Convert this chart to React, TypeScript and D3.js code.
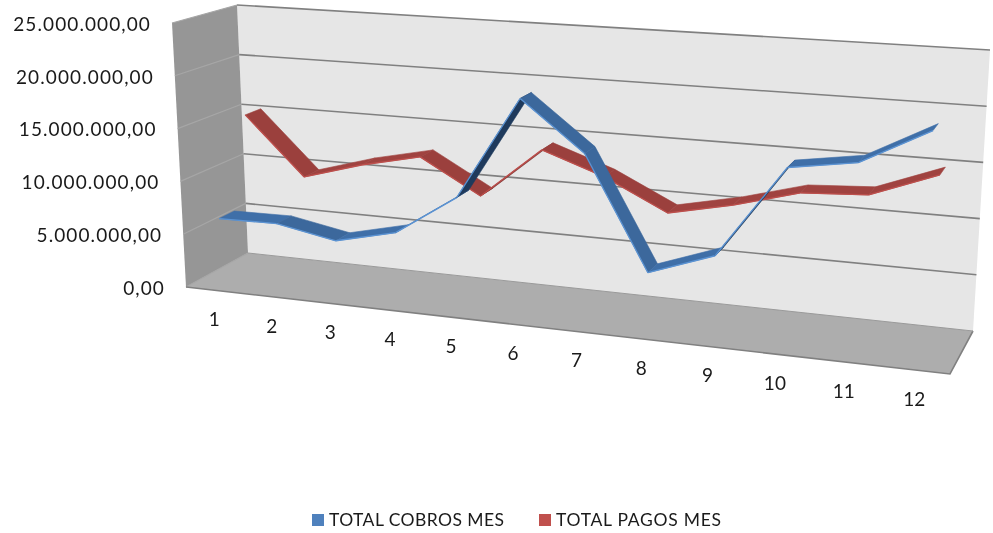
import React, { useRef, useEffect } from 'react';
import * as d3 from 'd3';

const months = ['1', '2', '3', '4', '5', '6', '7', '8', '9', '10', '11', '12'];
const cobros = [6380000, 6450000, 5400000, 6710000, 10460000, 19920000, 15430000, 5390000, 7460000, 15660000, 16570000, 19760000];
const pagos = [15080000, 9510000, 11160000, 12420000, 9230000, 14040000, 12030000, 9240000, 10490000, 12100000, 12440000, 14700000];
const legendNames = ['TOTAL COBROS MES', 'TOTAL PAGOS MES'];

const width = 993;
const height = 533;

// box corners as they land on screen, value 0 and value max
const corners = {
  frontLeft: [[186, 287], [172, 23]],
  backLeft: [[248, 253], [237, 5]],
  frontRight: [[950, 374], [972, 74]],
  backRight: [[973, 331], [990, 50]]
};
const perspective = 1.13;

const lerp = (a: number, b: number, t: number) => a + (b - a) * t;

export default function App() {
  const svgRef = useRef<SVGSVGElement>(null);

  useEffect(() => {
    if (!svgRef.current) return;
    const svg = d3.select(svgRef.current);
    svg.selectAll('*').remove();

    const yScale = d3.scaleLinear().domain([0, 25000000]).range([0, 1]);
    const xScale = d3.scalePoint<string>().domain(months).range([0, 1]).padding(0.5);

    // u along categories, z from front to back, f = fraction of the height
    const project = (u: number, z: number, f: number): [number, number] => {
      const t = u / (u + perspective * (1 - u));
      const pt = (k: number) => {
        const left = lerp(lerp(corners.frontLeft[0][k], corners.backLeft[0][k], z), lerp(corners.frontLeft[1][k], corners.backLeft[1][k], z), f);
        const right = lerp(lerp(corners.frontRight[0][k], corners.backRight[0][k], z), lerp(corners.frontRight[1][k], corners.backRight[1][k], z), f);
        return lerp(left, right, t);
      };
      return [pt(0), pt(1)];
    };
    const poly = (pts: [number, number][]) => pts.map(p => p.join(',')).join(' ');

    // walls
    svg.append('polygon')
      .attr('points', poly([project(0, 1, 0), project(0, 1, 1), project(1, 1, 1), project(1, 1, 0)]))
      .attr('fill', '#e6e6e6');
    svg.append('polygon')
      .attr('points', poly([project(0, 0, 0), project(0, 0, 1), project(0, 1, 1), project(0, 1, 0)]))
      .attr('fill', '#969696');
    svg.append('polygon')
      .attr('points', poly([project(0, 0, 0), project(0, 1, 0), project(1, 1, 0), project(1, 0, 0)]))
      .attr('fill', '#adadad');

    const ticks = yScale.ticks(5);
    ticks.forEach(v => {
      const f = yScale(v);
      const a = project(0, 0, f), b = project(0, 1, f), c = project(1, 1, f);
      svg.append('line')
        .attr('x1', a[0]).attr('y1', a[1]).attr('x2', b[0]).attr('y2', b[1])
        .attr('stroke', '#a6a6a6').attr('stroke-width', 1.2);
      if (v > 0) {
        svg.append('line')
          .attr('x1', b[0]).attr('y1', b[1]).attr('x2', c[0]).attr('y2', c[1])
          .attr('stroke', '#808080').attr('stroke-width', 1.6);
      }
    });
    // floor edges
    const fl = project(0, 0, 0), fr = project(1, 0, 0), br = project(1, 1, 0), bl = project(0, 1, 0);
    svg.append('polyline')
      .attr('points', poly([fl, fr, br]))
      .attr('fill', 'none').attr('stroke', '#808080').attr('stroke-width', 1.6);
    svg.append('line')
      .attr('x1', bl[0]).attr('y1', bl[1]).attr('x2', br[0]).attr('y2', br[1])
      .attr('stroke', '#9a9a9a').attr('stroke-width', 1);

    // ribbons
    const drawRibbon = (values: number[], z0: number, z1: number, colors: { top: string; down: string; under: string; edge: string }) => {
      const g = svg.append('g');
      for (let i = 0; i < values.length - 1; i++) {
        const u0 = xScale(months[i])!, u1 = xScale(months[i + 1])!;
        const a = project(u0, z0, yScale(values[i]));
        const b = project(u1, z0, yScale(values[i + 1]));
        const c = project(u1, z1, yScale(values[i + 1]));
        const d = project(u0, z1, yScale(values[i]));
        // which face we see depends on how the segment turns against the depth direction
        const cross = (b[0] - a[0]) * (d[1] - a[1]) - (b[1] - a[1]) * (d[0] - a[0]);
        const falling = values[i + 1] < values[i];
        const fill = cross > 0 ? colors.under : falling ? colors.down : colors.top;
        g.append('polygon')
          .attr('points', poly([a, b, c, d]))
          .attr('fill', fill)
          .attr('stroke', fill)
          .attr('stroke-width', 0.6)
          .attr('stroke-linejoin', 'round');
        g.append('line')
          .attr('x1', a[0]).attr('y1', a[1]).attr('x2', b[0]).attr('y2', b[1])
          .attr('stroke', colors.edge).attr('stroke-width', 1.3);
      }
    };
    drawRibbon(pagos, 0.62, 0.87, { top: '#a04340', down: '#9b403d', under: '#7a2f2d', edge: '#bd4f4c' });
    drawRibbon(cobros, 0.13, 0.38, { top: '#3f6fa8', down: '#3c689c', under: '#1f3a5c', edge: '#5b93d3' });

    // value labels
    const locale = d3.formatLocale({ decimal: ',', thousands: '.', grouping: [3], currency: ['', ''] });
    const fmt = locale.format(',.2f');
    ticks.forEach(v => {
      const p = project(0, 0, yScale(v));
      svg.append('text')
        .attr('x', p[0] - 21)
        .attr('y', p[1] + 3)
        .attr('text-anchor', 'end')
        .attr('dominant-baseline', 'middle')
        .attr('font-family', 'Lato, sans-serif')
        .attr('font-size', 19)
        .attr('letter-spacing', 1.1)
        .attr('fill', '#1a1a1a')
        .text(fmt(v));
    });

    // category labels
    months.forEach(m => {
      const p = project(xScale(m)!, 0, 0);
      svg.append('text')
        .attr('x', p[0])
        .attr('y', p[1] + 36)
        .attr('text-anchor', 'middle')
        .attr('font-family', 'Lato, sans-serif')
        .attr('font-size', 19)
        .attr('fill', '#1a1a1a')
        .text(m);
    });

    // legend
    const legendX = [312, 539];
    const legendLength = [175, 165];
    const legendColors = ['#4f81bd', '#c0504d'];
    legendNames.forEach((name, i) => {
      svg.append('rect')
        .attr('x', legendX[i]).attr('y', 514)
        .attr('width', 12).attr('height', 12)
        .attr('fill', legendColors[i]);
      svg.append('text')
        .attr('x', legendX[i] + 17)
        .attr('y', 526)
        .attr('font-family', 'Lato, sans-serif')
        .attr('font-size', 17.5)
        .attr('textLength', legendLength[i])
        .attr('fill', '#1a1a1a')
        .text(name);
    });
  }, []);

  return (
    <svg
      ref={svgRef}
      width={width}
      height={height}
      style={{ position: 'absolute', left: 0, top: 0, background: '#fff', filter: 'blur(0.4px)' }}
    />
  );
}
